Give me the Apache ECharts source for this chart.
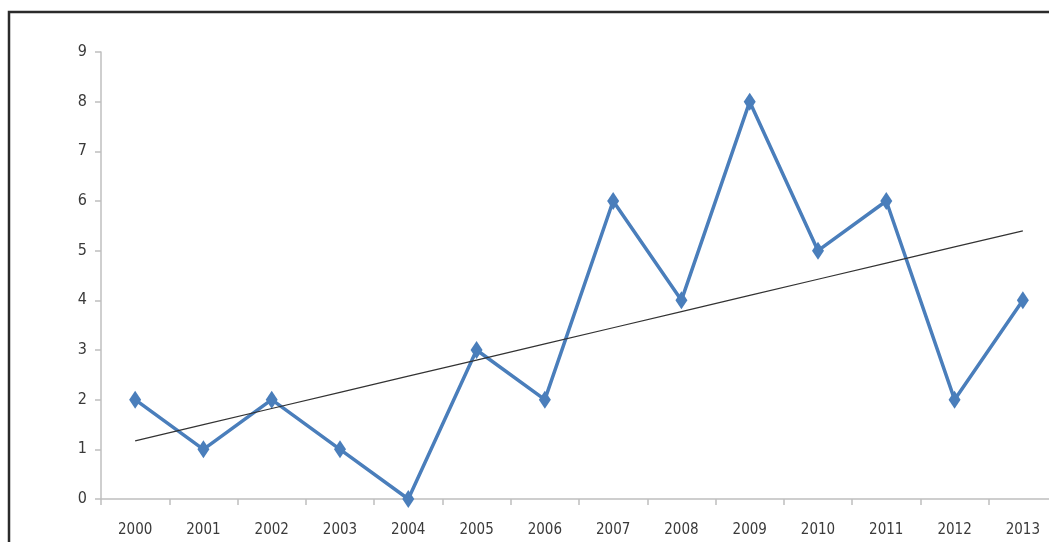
<!DOCTYPE html>
<html>
<head>
<meta charset="utf-8">
<script src="https://cdn.jsdelivr.net/npm/echarts@6/dist/echarts.min.js"></script>
<style>
  html, body { margin: 0; padding: 0; background: #fff; overflow: hidden; }
  #chart { width: 1070px; height: 542px; }
</style>
</head>
<body>
<div id="chart"></div>
<script>
// Yearly counts, 2000–2013
const years = ['2000','2001','2002','2003','2004','2005','2006','2007','2008','2009','2010','2011','2012','2013'];
const counts = [2, 1, 2, 1, 0, 3, 2, 6, 4, 8, 5, 6, 2, 4];

// Least-squares linear trend through the yearly counts
function linearTrend(values) {
  const n = values.length;
  let sx = 0, sy = 0, sxy = 0, sxx = 0;
  values.forEach((y, x) => { sx += x; sy += y; sxy += x * y; sxx += x * x; });
  const slope = (n * sxy - sx * sy) / (n * sxx - sx * sx);
  const intercept = (sy - slope * sx) / n;
  return values.map((_, x) => +(intercept + slope * x).toFixed(4));
}
const trend = linearTrend(counts);

const labelFont = '"DejaVu Sans Condensed", "Liberation Sans Narrow", sans-serif';

const chart = echarts.init(document.getElementById('chart'), null, { renderer: 'canvas' });
chart.setOption({
  animation: false,
  backgroundColor: '#ffffff',
  graphic: [{
    type: 'polyline',
    shape: { points: [[9, 542], [9, 12], [1070, 12]] },
    style: { stroke: '#2b2b2b', lineWidth: 2.5, fill: null },
    silent: true
  }],
  grid: { left: 101, top: 52, width: 956, height: 447, containLabel: false },
  xAxis: {
    type: 'category',
    data: years,
    boundaryGap: true,
    axisLine: { lineStyle: { color: '#bfbfbf', width: 1.5 } },
    axisTick: { show: true, length: 6, lineStyle: { color: '#bfbfbf', width: 1.5 } },
    axisLabel: { color: '#3a3a3a', fontFamily: labelFont, fontSize: 15, margin: 24 },
    splitLine: { show: false }
  },
  yAxis: {
    type: 'value',
    min: 0, max: 9, interval: 1,
    axisLine: { show: true, lineStyle: { color: '#bfbfbf', width: 1.5 } },
    axisTick: { show: true, length: 6, lineStyle: { color: '#bfbfbf', width: 1.5 } },
    axisLabel: { color: '#3a3a3a', fontFamily: labelFont, fontSize: 16, margin: 14 },
    splitLine: { show: false }
  },
  series: [
    {
      name: 'Count',
      type: 'line',
      data: counts,
      symbol: 'diamond',
      symbolSize: [12, 18],
      showSymbol: true,
      itemStyle: { color: '#4a7ebb' },
      lineStyle: { color: '#4a7ebb', width: 3.5 },
      z: 3
    },
    {
      name: 'Trend',
      type: 'line',
      data: trend,
      symbol: 'none',
      lineStyle: { color: '#333333', width: 1.2 },
      z: 4
    }
  ]
});
</script>
</body>
</html>
